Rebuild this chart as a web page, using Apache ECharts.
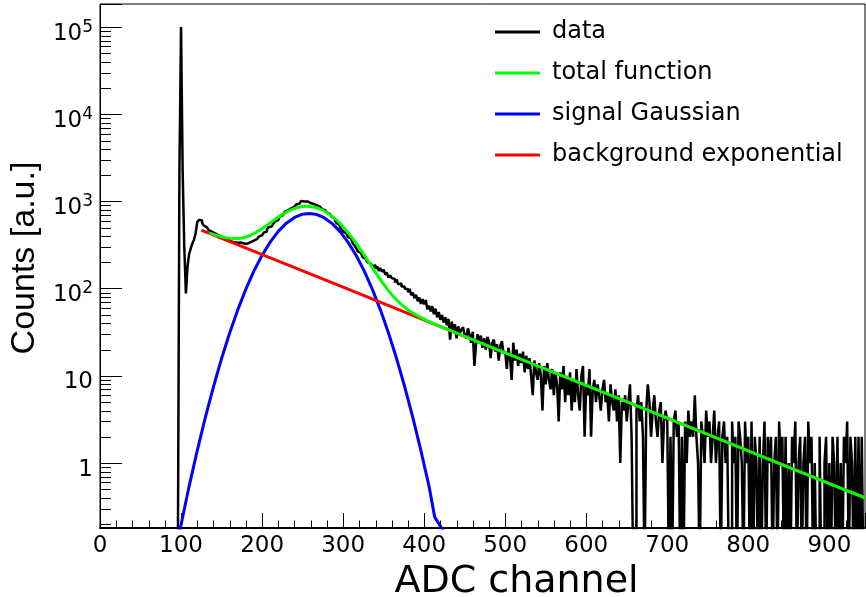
<!DOCTYPE html>
<html><head><meta charset="utf-8">
<script src="https://cdn.jsdelivr.net/npm/echarts@6/dist/echarts.min.js"></script>
<style>html,body{margin:0;padding:0;background:#fff}#c{width:866px;height:597px}</style>
</head><body><div id="c"></div>
<script>
// ---- histogram: ADC channel bins, 2 channels wide, first edge at 0 ----
const binWidth = 2;
const xFirstEdge = 0;
const countsCh000 = [0,0,0,0,0,0,0,0,0,0, 0,0,0,0,0,0,0,0,0,0, 0,0,0,0,0,0,0,0,0,0, 0,0,0,0,0,0,0,0,0,0, 0,0,0,0,0,0,0,0,0,2300];
const countsCh100 = [100000,2200,300,88,180,250,290,330,365,430, 580,615,610,570,530,505,490,468,450,440, 432,425,412,402,396,388,380,378,368,352, 348,350,340,342,336,334,338,331,330,334, 328,335,342,348,356,362,372,385,396,410];
const countsCh200 = [425,440,452,478,506,518,540,558,590,612, 640,676,700,728,762,790,820,835,860,872, 905,925,940,965,1010,1000,972,1000,975,960, 945,935,920,900,880,862,840,815,795,770, 742,718,690,665,635,600,565,540,510,480];
const countsCh300 = [452,430,412,392,374,356,332,312,294,268, 258,246,230,220,216,202,194,196,180,186, 170,180,160,172,156,165,145,153,134,142, 132,129,118,128,112,115,106,106,100,99, 91,100,84,90,78,85,72,79,67,76];
const countsCh400 = [66,74,58,64,55,63,51,59,47,54, 44,50,41,47,38,45,26,42,33,39, 27,37,31,34,36,29,27,35,30,24, 32,13,23,30,24,29,21,27,20,28, 25,16,24,26,19,23,15,22,25,18];
const countsCh500 = [19,12,21,16,9,24,15,20,13,18, 14,19,11,17,12,16,10,6,15,11, 9,14,10,4,13,8,14,9,7,12, 6,11,8,3,11,7,13,5,10,6, 11,4,9,5,12,6,4,10,13,2];
const countsCh600 = [8,6,12,2,7,9,5,8,6,4, 7,9,5,6,3,8,5,4,7,3, 6,1,5,4,6,3,5,8,2,0, 0,4,6,3,5,2,0,4,8,5, 2,4,6,3,2,4,5,1,3,4];
const countsCh700 = [3,0,2,0,3,4,2,3,0,2, 0,3,1,4,2,3,2,6,2,1, 0,3,2,1,4,2,3,1,2,4, 1,2,3,0,2,3,1,2,0,0, 3,1,2,0,3,2,1,0,3,1];
const countsCh800 = [2,0,3,0,2,1,0,2,0,1, 3,0,2,1,2,0,1,2,0,3, 1,2,0,2,0,1,0,2,1,3, 0,1,2,0,1,2,0,3,1,2, 0,1,0,0,2,0,0,1,2,0];
const countsCh900 = [1,0,2,1,0,2,0,1,0,2, 1,3,0,2,1,0,2,0,2,0, 2,0];

// ---- fitted curves ----
const totalX = [135,145,155,165,175,185,195,205,215,225,235,245,255,265,275,285,295,305,315,325,335,345,355,365,375,385,395,405,420,450,500,600,700,800,900,944];
const totalY = [436,406,385,375,381,406,455,525,613,708,796,857,881,858,793,692,574,452,342,251,181,131,97.6,76.1,62.4,53.4,47.2,42.5,36.9,28.4,18.4,7.8,3.28,1.38,0.58,0.40];
const gaussX = [96,110,120,130,140,150,160,170,180,190,200,210,220,230,240,250,258,266,276,286,296,306,316,326,336,346,356,366,376,386,396,406,413,426];
const gaussY = [0.13,0.545,1.39,3.34,7.5,15.8,31,57.2,98.8,160,242,342,454,564,656,715,730,715,656,564,454,342,242,160,98.8,57.2,31,15.8,7.5,3.34,1.39,0.545,0.24,0.155];
const expoX = [125,300,500,700,944];
const expoY = [470,104,18.4,3.28,0.40];

// ---- axes ----
const xMin = 0, xMax = 944, yMin = 0.18, yMax = 184000;
const xTickValues = [0,100,200,300,400,500,600,700,800,900];
const yTickValues = [1,10,100,1000,10000,100000];
const yTickBase = ['1','10','10','10','10','10'];
const yTickSup = ['','','2','3','4','5'];
const seriesNames = ['data','total function','signal Gaussian','background exponential'];

const counts = [].concat(countsCh000,countsCh100,countsCh200,countsCh300,countsCh400,countsCh500,countsCh600,countsCh700,countsCh800,countsCh900);
const zeroDraw = yMin * 0.3; // empty bins drop below the axis floor (clipped), like ROOT
const dataPoints = counts.map((c, i) => [xFirstEdge + i * binWidth, c > 0 ? c : zeroDraw]);
dataPoints.push([xFirstEdge + counts.length * binWidth, counts[counts.length - 1] > 0 ? counts[counts.length - 1] : zeroDraw]);
const zip = (a, b) => a.map((v, i) => [v, b[i]]);

const yMinorTicks = [];
for (let e = -1; e <= 5; e++) for (let m = 2; m <= 9; m++) {
  const v = m * Math.pow(10, e);
  if (v > yMin && v < yMax) yMinorTicks.push([xMin, v]);
}
const xMinorTicks = [];
for (let x = 20; x < xMax; x += 20) if (x % 100) xMinorTicks.push([x, yMin]);

const FONT = 'DejaVu Sans';
const chart = echarts.init(document.getElementById('c'));
chart.setOption({
  animation: false,
  backgroundColor: '#fff',
  grid: { left: 100, right: 1, top: 4, bottom: 69, containLabel: false, outerBoundsMode: 'none',
    show: true, borderColor: '#000', borderWidth: 1, backgroundColor: 'transparent' },
  legend: {
    data: seriesNames, orient: 'vertical', left: 495, top: 18, padding: 0,
    itemWidth: 45, itemHeight: 3, itemGap: 13, icon: 'rect',
    textStyle: { fontFamily: FONT, fontSize: 24, color: '#000', lineHeight: 28, padding: [0, 0, 0, 7] }
  },
  xAxis: {
    type: 'value', min: xMin, max: xMax, interval: 100,
    axisLine: { onZero: false, lineStyle: { color: '#000', width: 2 } },
    axisTick: { inside: true, length: 15, lineStyle: { color: '#000', width: 1 } },
    splitLine: { show: false },
    axisLabel: { margin: 7, fontFamily: FONT, fontSize: 23, color: '#000',
      formatter: v => xTickValues.includes(v) ? String(v) : '' },
    name: 'ADC channel', nameLocation: 'middle', nameGap: 34,
    nameTextStyle: { fontFamily: FONT, fontSize: 38, color: '#000', padding: [0, 0, 0, 68] }
  },
  yAxis: {
    type: 'log', logBase: 10, min: yMin, max: yMax,
    axisLine: { show: true, lineStyle: { color: '#000', width: 1 } },
    axisTick: { show: true, inside: true, length: 22, lineStyle: { color: '#000', width: 1 } },
    splitLine: { show: false },
    axisLabel: {
      margin: 7, color: '#000', lineHeight: 36,
      formatter: v => {
        const i = yTickValues.findIndex(t => Math.abs(t - v) / t < 1e-6);
        if (i < 0) return '';
        return yTickSup[i] ? '{b|' + yTickBase[i] + '}{s|' + yTickSup[i] + '}' : '{b|' + yTickBase[i] + '}';
      },
      rich: {
        b: { fontFamily: FONT, fontSize: 23, color: '#000', verticalAlign: 'bottom' },
        s: { fontFamily: FONT, fontSize: 17, color: '#000', verticalAlign: 'middle' }
      }
    },
    name: 'Counts [a.u.]', nameLocation: 'middle', nameGap: 54,
    nameTextStyle: { fontFamily: 'Liberation Sans', fontSize: 34, color: '#000', padding: [0, 0, 0, 16] }
  },
  series: [
    { type: 'line', name: 'data', data: dataPoints, step: 'end', symbol: 'none', color: '#000',
      lineStyle: { color: '#000', width: 2.5 }, z: 2 },
    { type: 'line', name: 'signal Gaussian', data: zip(gaussX, gaussY), symbol: 'none', color: '#0000ff',
      lineStyle: { color: '#0000ff', width: 3 }, z: 3 },
    { type: 'line', name: 'background exponential', data: zip(expoX, expoY), symbol: 'none', color: '#ff0000',
      lineStyle: { color: '#ff0000', width: 3 }, z: 4 },
    { type: 'line', name: 'total function', data: zip(totalX, totalY), symbol: 'none', smooth: 0.3, color: '#00ff00',
      lineStyle: { color: '#00ff00', width: 3 }, z: 5 },
    { type: 'custom', name: 'yMinorTicks', silent: true, data: yMinorTicks, z: 6,
      renderItem: (params, api) => {
        const p = api.coord([api.value(0), api.value(1)]);
        const y = Math.round(p[1]) + 0.5;
        return { type: 'line', shape: { x1: p[0], y1: y, x2: p[0] + 11, y2: y }, style: { stroke: '#000', lineWidth: 1 } };
      } },
    { type: 'custom', name: 'xMinorTicks', silent: true, data: xMinorTicks, z: 6,
      renderItem: (params, api) => {
        const p = api.coord([api.value(0), api.value(1)]);
        const x = Math.round(p[0]) + 0.5;
        return { type: 'line', shape: { x1: x, y1: p[1], x2: x, y2: p[1] - 7.5 }, style: { stroke: '#000', lineWidth: 1 } };
      } }
  ]
});
</script></body></html>
